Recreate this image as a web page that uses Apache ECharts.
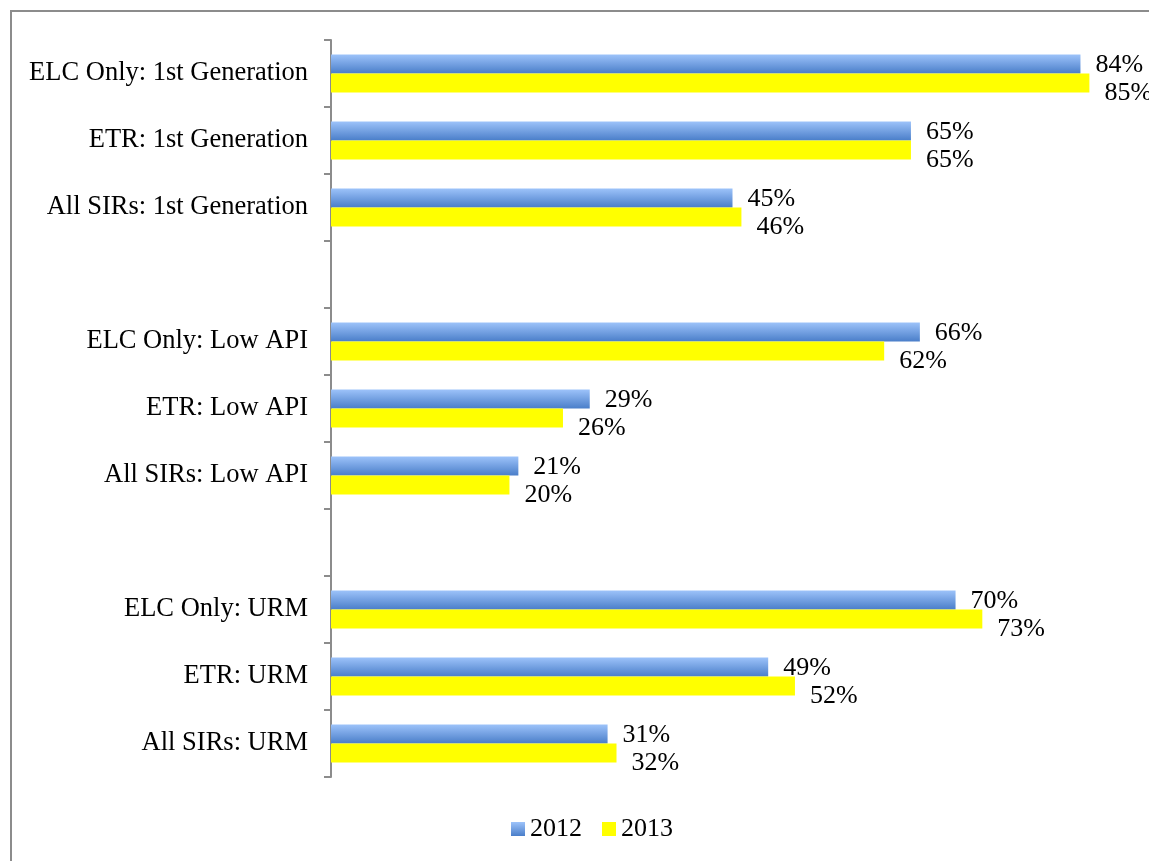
<!DOCTYPE html>
<html>
  <head>
    <meta charset="utf-8">
    <title>SIR rates 2012 vs 2013</title>
    <script src="https://cdn.jsdelivr.net/npm/echarts@6/dist/echarts.min.js"></script>
    <style>
      html, body { margin: 0; padding: 0; background: #fff; }
    </style>
  </head>
  <body>
    <div id="chart" style="width: 1149px; height: 861px;"></div>
    <script type="text/javascript">
      // gap slots are blank categories so the groups sit apart
      var categories = [
        'ELC Only: 1st Generation', 'ETR: 1st Generation', 'All SIRs: 1st Generation',
        ' ',
        'ELC Only: Low API', 'ETR: Low API', 'All SIRs: Low API',
        '  ',
        'ELC Only: URM', 'ETR: URM', 'All SIRs: URM'
      ];
      var values2012 = [84, 65, 45, null, 66, 29, 21, null, 70, 49, 31];
      var values2013 = [85, 65, 46, null, 62, 26, 20, null, 73, 52, 32];
      var seriesNames = ['2012', '2013'];

      var font = "'Liberation Serif', 'Times New Roman', serif";
      var chartElem = echarts.init(document.getElementById('chart'));

      var blueFill = new echarts.graphic.LinearGradient(0, 0, 0, 1, [
        { offset: 0, color: '#9dc3fa' },
        { offset: 1, color: '#4a7ec9' }
      ]);

      function pctLabel(offsetY) {
        return {
          show: true,
          position: 'right',
          distance: 15,
          offset: [0, offsetY],
          color: '#000',
          fontFamily: font,
          fontSize: 26,
          formatter: function (p) { return p.value + '%'; }
        };
      }

      chartElem.setOption({
        animation: false,
        backgroundColor: '#fff',
        textStyle: { fontFamily: font },
        graphic: [{
          type: 'rect',
          shape: { x: 11, y: 11, width: 1160, height: 870 },
          style: { fill: 'none', stroke: '#8c8c8c', lineWidth: 2 },
          silent: true
        }],
        grid: { left: 331, top: 40, bottom: 84, right: 15, containLabel: false },
        legend: {
          bottom: 14,
          left: 506,
          itemWidth: 14,
          itemHeight: 14,
          itemGap: 20,
          icon: 'rect',
          textStyle: { fontFamily: font, fontSize: 26, color: '#000' },
          data: seriesNames
        },
        xAxis: {
          type: 'value',
          min: 0,
          max: 90,
          show: false
        },
        yAxis: {
          type: 'category',
          inverse: true,
          data: categories,
          axisLine: { lineStyle: { color: '#8c8c8c', width: 2 } },
          axisTick: { show: true, length: 7, lineStyle: { color: '#8c8c8c', width: 2 } },
          axisLabel: { color: '#000', fontFamily: font, fontSize: 26.5, margin: 23, padding: [5, 0, 0, 0] },
          splitLine: { show: false }
        },
        series: [
          {
            name: seriesNames[0],
            type: 'bar',
            data: values2012,
            barGap: '0%',
            barCategoryGap: '43%',
            itemStyle: { color: blueFill },
            label: pctLabel(1)
          },
          {
            name: seriesNames[1],
            type: 'bar',
            data: values2013,
            barGap: '0%',
            barCategoryGap: '43%',
            itemStyle: { color: '#ffff00' },
            label: pctLabel(10)
          }
        ]
      });
    </script>
  </body>
</html>
